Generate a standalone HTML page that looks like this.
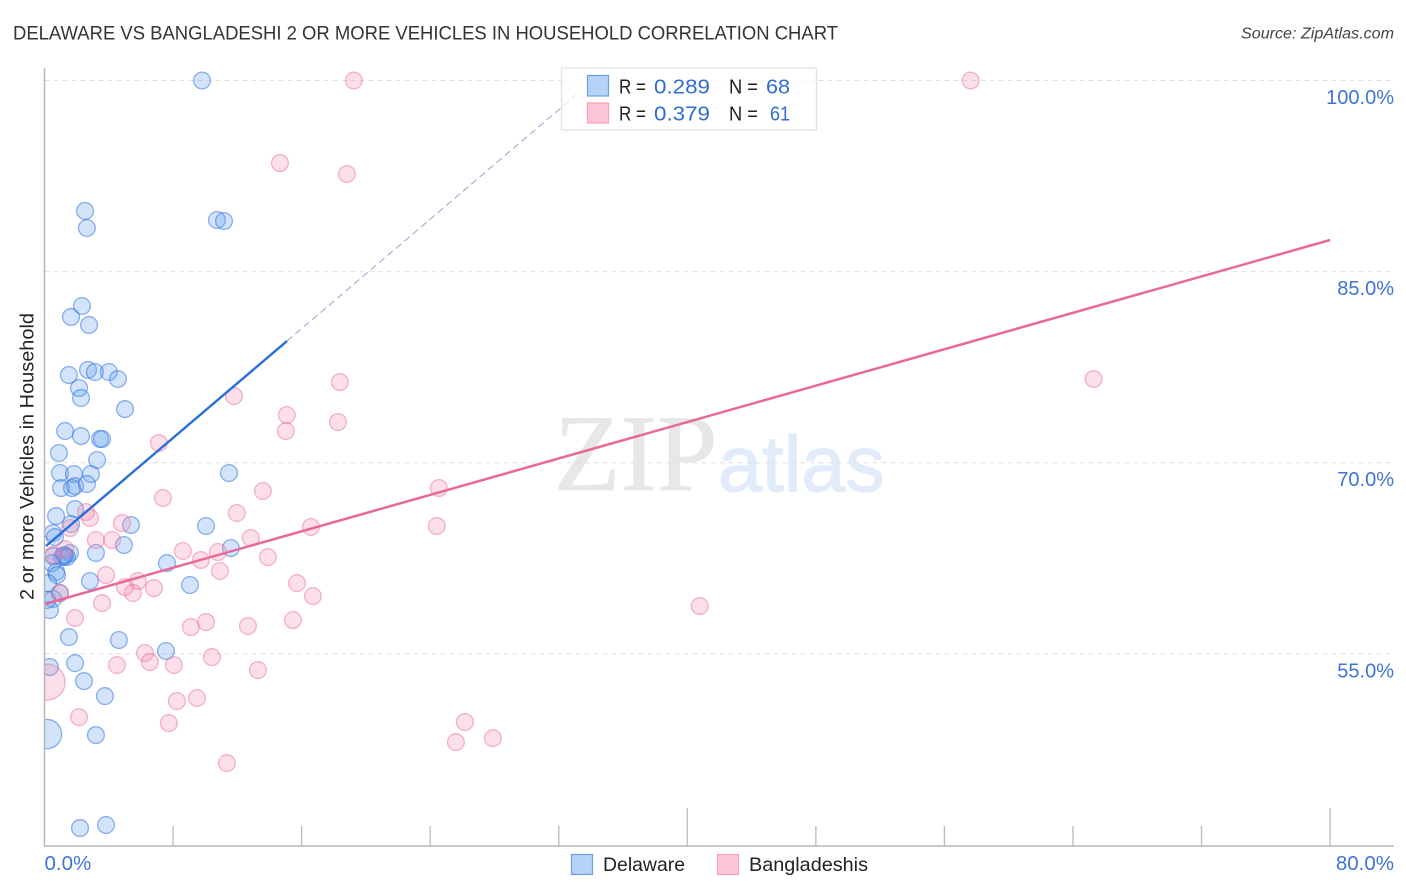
<!DOCTYPE html>
<html>
<head>
<meta charset="utf-8">
<title>Delaware vs Bangladeshi 2 or more vehicles in household correlation chart</title>
<style>
html,body{margin:0;padding:0;background:#fff;width:1406px;height:892px;overflow:hidden}
svg{display:block;font-family:"Liberation Sans",Arial,sans-serif}
</style>
</head>
<body>
<svg id="chart" width="1406" height="892" viewBox="0 0 1406 892" xmlns="http://www.w3.org/2000/svg">
  <rect width="1406" height="892" fill="#fff"/>
  <text x="13" y="39.5" font-size="19.5" fill="#333" textLength="825" lengthAdjust="spacingAndGlyphs">DELAWARE VS BANGLADESHI 2 OR MORE VEHICLES IN HOUSEHOLD CORRELATION CHART</text>
  <text x="1241" y="38.5" font-size="15.5" font-style="italic" fill="#444" textLength="153" lengthAdjust="spacingAndGlyphs">Source: ZipAtlas.com</text>

  <g>
    <text x="554" y="490" font-size="109" fill="#e7e7e7" stroke="#e7e7e7" stroke-width="0.8" style="font-family:'Liberation Serif',serif">ZIP</text>
    <text x="718" y="491" font-size="79" fill="#e1ebf9" stroke="#e1ebf9" stroke-width="1.2">atlas</text>
  </g>

  <g id="grid"></g>
  <g id="points"></g>
  <rect x="0" y="60" width="44.5" height="800" fill="#fff"/>
  <g id="trends"></g>
  <g id="axes">
    <line x1="44.5" y1="68" x2="44.5" y2="846" stroke="#b5b5b5" stroke-width="1.5"/>
    <line x1="44" y1="846" x2="1394" y2="846" stroke="#b5b5b5" stroke-width="1.5"/>
  </g>
  <g id="labels"></g>

  <text transform="translate(33.5,456.5) rotate(-90)" font-size="19.5" fill="#222" text-anchor="middle" textLength="287" lengthAdjust="spacingAndGlyphs">2 or more Vehicles in Household</text>

  <g>
    <rect x="561.5" y="68" width="255" height="62" fill="#fff" fill-opacity="0.72" stroke="#e2e2e2" stroke-width="1.3"/>
    <rect x="587.5" y="75.5" width="21" height="20.5" fill="#b6d2f6" stroke="#6c9fe2" stroke-width="1.2"/>
    <rect x="587.5" y="103" width="21" height="20" fill="#fdc6d8" stroke="#f2a0bc" stroke-width="1.2"/>
    <g font-size="20.5">
      <text x="619" y="93.5" fill="#222" textLength="27" lengthAdjust="spacingAndGlyphs">R =</text>
      <text x="654" y="93.5" fill="#2f6dd0" textLength="56" lengthAdjust="spacingAndGlyphs">0.289</text>
      <text x="729" y="93.5" fill="#222" textLength="29" lengthAdjust="spacingAndGlyphs">N =</text>
      <text x="766" y="93.5" fill="#2f6dd0" textLength="24" lengthAdjust="spacingAndGlyphs">68</text>
      <text x="619" y="120.5" fill="#222" textLength="27" lengthAdjust="spacingAndGlyphs">R =</text>
      <text x="654" y="120.5" fill="#2f6dd0" textLength="56" lengthAdjust="spacingAndGlyphs">0.379</text>
      <text x="729" y="120.5" fill="#222" textLength="29" lengthAdjust="spacingAndGlyphs">N =</text>
      <text x="770" y="120.5" fill="#2f6dd0" textLength="20" lengthAdjust="spacingAndGlyphs">61</text>
    </g>
  </g>

  <g>
    <rect x="571.5" y="854.5" width="21" height="20" fill="#b6d2f6" stroke="#6c9fe2" stroke-width="1.2"/>
    <text x="603" y="871" font-size="19.5" fill="#222" textLength="82" lengthAdjust="spacingAndGlyphs">Delaware</text>
    <rect x="717.5" y="854.5" width="21" height="20" fill="#fdc6d8" stroke="#f2a0bc" stroke-width="1.2"/>
    <text x="749" y="871" font-size="19.5" fill="#222" textLength="119" lengthAdjust="spacingAndGlyphs">Bangladeshis</text>
  </g>
</svg>

<script>
const delawareX = [9.80,2.52,2.64,10.73,11.17,2.33,1.65,2.77,2.71,1.52,3.14,4.01,4.57,2.15,2.27,5.01,1.28,2.27,3.45,3.58,0.90,3.27,11.48,0.96,1.83,2.89,1.03,1.71,1.90,2.64,1.90,0.72,1.65,5.38,10.05,0.53,0.65,4.94,11.60,3.20,1.59,1.28,1.40,1.09,0.53,1.21,7.62,0.47,0.72,0.78,2.83,9.05,0.22,0.96,0.53,0.16,0.34,1.52,4.63,7.56,0.34,1.90,2.46,3.76,3.20,2.21,3.83];
const delawareY = [100,89.76,88.42,89.05,88.97,82.30,81.44,80.81,77.28,76.88,77.12,77.12,76.57,75.86,75.08,74.21,72.49,72.09,71.86,71.86,70.76,70.21,69.19,69.19,69.11,69.11,68.01,68.01,68.17,68.33,66.36,65.81,65.19,65.11,65.03,64.48,64.16,63.54,63.30,62.91,62.91,62.67,62.59,62.59,62.67,62.75,62.12,62.12,61.42,61.18,60.71,60.40,60.55,59.77,59.30,59.22,58.43,56.31,56.08,55.22,53.96,54.27,52.86,51.68,48.62,41.32,41.56];
const delawareLargeX = [0.16];
const delawareLargeY = [48.70];
const bangladeshisX = [19.25,57.63,14.65,18.82,18.38,65.28,11.79,15.08,15.02,18.26,7.12,7.37,13.59,24.54,11.97,2.58,2.83,4.82,1.59,16.58,24.41,3.20,4.20,12.84,8.61,10.79,1.28,0.53,9.73,13.90,10.92,3.83,5.81,5.01,6.81,5.50,0.96,15.71,16.70,3.58,40.77,1.90,15.46,10.05,9.11,12.66,6.25,10.42,6.56,4.51,8.05,13.28,8.24,9.49,2.15,7.74,26.16,25.60,27.90,11.35];
const bangladeshisY = [100,100,93.52,92.66,76.33,76.57,75.23,73.74,72.49,73.19,71.54,67.23,67.78,68.01,66.05,66.13,65.66,65.26,64.87,64.95,65.03,63.93,63.93,64.09,63.07,62.99,63.22,62.75,62.36,62.59,61.50,61.18,60.71,60.24,60.16,59.77,59.77,60.55,59.53,58.98,58.75,57.81,57.65,57.49,57.10,57.18,55.06,54.74,54.35,54.12,54.12,53.72,51.29,51.53,50.03,49.56,49.64,48.07,48.38,46.42];
const bangladeshisLargeX = [0.16];
const bangladeshisLargeY = [52.78];

const delawareTrendX = [0.09,15.09];
const delawareTrendY = [63.46,79.55];
const delawareExtensionX = [15.09,33.3];
const delawareExtensionY = [79.55,99.1];
const bangladeshisTrendX = [0,80];
const bangladeshisTrendY = [58.9,87.48];

const yTickValues = [100,85,70,55];
const yTickLabels = ['100.0%','85.0%','70.0%','55.0%'];
const xTickValues = [8,16,24,32,40,48,56,64,72,80];
const xTickMajor = [40,80];
const xAxisLabelValues = [0,80];
const xAxisLabels = ['0.0%','80.0%'];

function xScale(v){ return 44.5 + v * 16.07; }
function yScale(v){ return 80.5 + (100 - v) * 12.74; }

const NS = 'http://www.w3.org/2000/svg';
const gridLayer = document.getElementById('grid');
const pointLayer = document.getElementById('points');
const trendLayer = document.getElementById('trends');
const axisLayer = document.getElementById('axes');
const labelLayer = document.getElementById('labels');

function makeCircle(x, y, r, fill, stroke){
  const c = document.createElementNS(NS, 'circle');
  c.setAttribute('cx', xScale(x));
  c.setAttribute('cy', yScale(y));
  c.setAttribute('r', r);
  c.setAttribute('fill', fill);
  c.setAttribute('stroke', stroke);
  c.setAttribute('stroke-width', 1.3);
  return c;
}
function makeLine(xs, ys, stroke, width, dash){
  const l = document.createElementNS(NS, 'line');
  l.setAttribute('x1', xScale(xs[0]));
  l.setAttribute('y1', yScale(ys[0]));
  l.setAttribute('x2', xScale(xs[1]));
  l.setAttribute('y2', yScale(ys[1]));
  l.setAttribute('stroke', stroke);
  l.setAttribute('stroke-width', width);
  if (dash) l.setAttribute('stroke-dasharray', dash);
  return l;
}

yTickValues.forEach(function(v, i){
  const y = yScale(v);
  const g = document.createElementNS(NS, 'line');
  
  
  g.setAttribute('x1', 44.5);
  g.setAttribute('x2', 1394);
  g.setAttribute('y1', y);
  g.setAttribute('y2', y);
  g.setAttribute('stroke', '#dfdfdf');
  g.setAttribute('stroke-width', 1);
  g.setAttribute('stroke-dasharray', '5 4');
  gridLayer.appendChild(g);
  const t = document.createElementNS(NS, 'text');
  
  
  t.setAttribute('x', 1394);
  t.setAttribute('y', y + 23.5);
  t.setAttribute('text-anchor', 'end');
  t.setAttribute('font-size', 20);
  t.setAttribute('fill', '#3f74d4');
  t.textContent = yTickLabels[i];
  labelLayer.appendChild(t);
});

xTickValues.forEach(function(v){
  const x = xScale(v);
  const t = document.createElementNS(NS, 'line');
  
  
  t.setAttribute('x1', x);
  t.setAttribute('x2', x);
  t.setAttribute('y1', 846);
  t.setAttribute('y2', xTickMajor.indexOf(v) >= 0 ? 808 : 826);
  t.setAttribute('stroke', '#bdbdbd');
  t.setAttribute('stroke-width', 1.4);
  axisLayer.appendChild(t);
});

xAxisLabelValues.forEach(function(v, i){
  const t = document.createElementNS(NS, 'text');
  
  
  t.setAttribute('x', i === 0 ? xScale(v) : 1394);
  t.setAttribute('y', 870);
  t.setAttribute('text-anchor', i === 0 ? 'start' : 'end');
  t.setAttribute('font-size', 20.5);
  t.setAttribute('fill', '#3f74d4');
  t.textContent = xAxisLabels[i];
  labelLayer.appendChild(t);
});

const blueFill = 'rgba(96,158,236,0.28)';
const blueStroke = 'rgba(42,112,218,0.52)';
const pinkFill = 'rgba(245,140,175,0.28)';
const pinkStroke = 'rgba(232,104,152,0.48)';

delawareX.forEach(function(v, i){
  const c = makeCircle(v, delawareY[i], 8.4, blueFill, blueStroke);
  
  
  pointLayer.appendChild(c);
});
delawareLargeX.forEach(function(v, i){
  const c = makeCircle(v, delawareLargeY[i], 14.6, blueFill, blueStroke);
  
  
  pointLayer.appendChild(c);
});
bangladeshisX.forEach(function(v, i){
  const c = makeCircle(v, bangladeshisY[i], 8.4, pinkFill, pinkStroke);
  
  
  pointLayer.appendChild(c);
});
bangladeshisLargeX.forEach(function(v, i){
  const c = makeCircle(v, bangladeshisLargeY[i], 18, pinkFill, pinkStroke);
  
  
  pointLayer.appendChild(c);
});

const extensionLine = makeLine(delawareExtensionX, delawareExtensionY, '#8fa9cf', 1, '7 4');


trendLayer.appendChild(extensionLine);

const delawareLine = makeLine(delawareTrendX, delawareTrendY, '#2a6fd8', 2.4);


trendLayer.appendChild(delawareLine);

const bangladeshisLine = makeLine(bangladeshisTrendX, bangladeshisTrendY, '#e8689a', 2.5);


trendLayer.appendChild(bangladeshisLine);
</script>
</body>
</html>
